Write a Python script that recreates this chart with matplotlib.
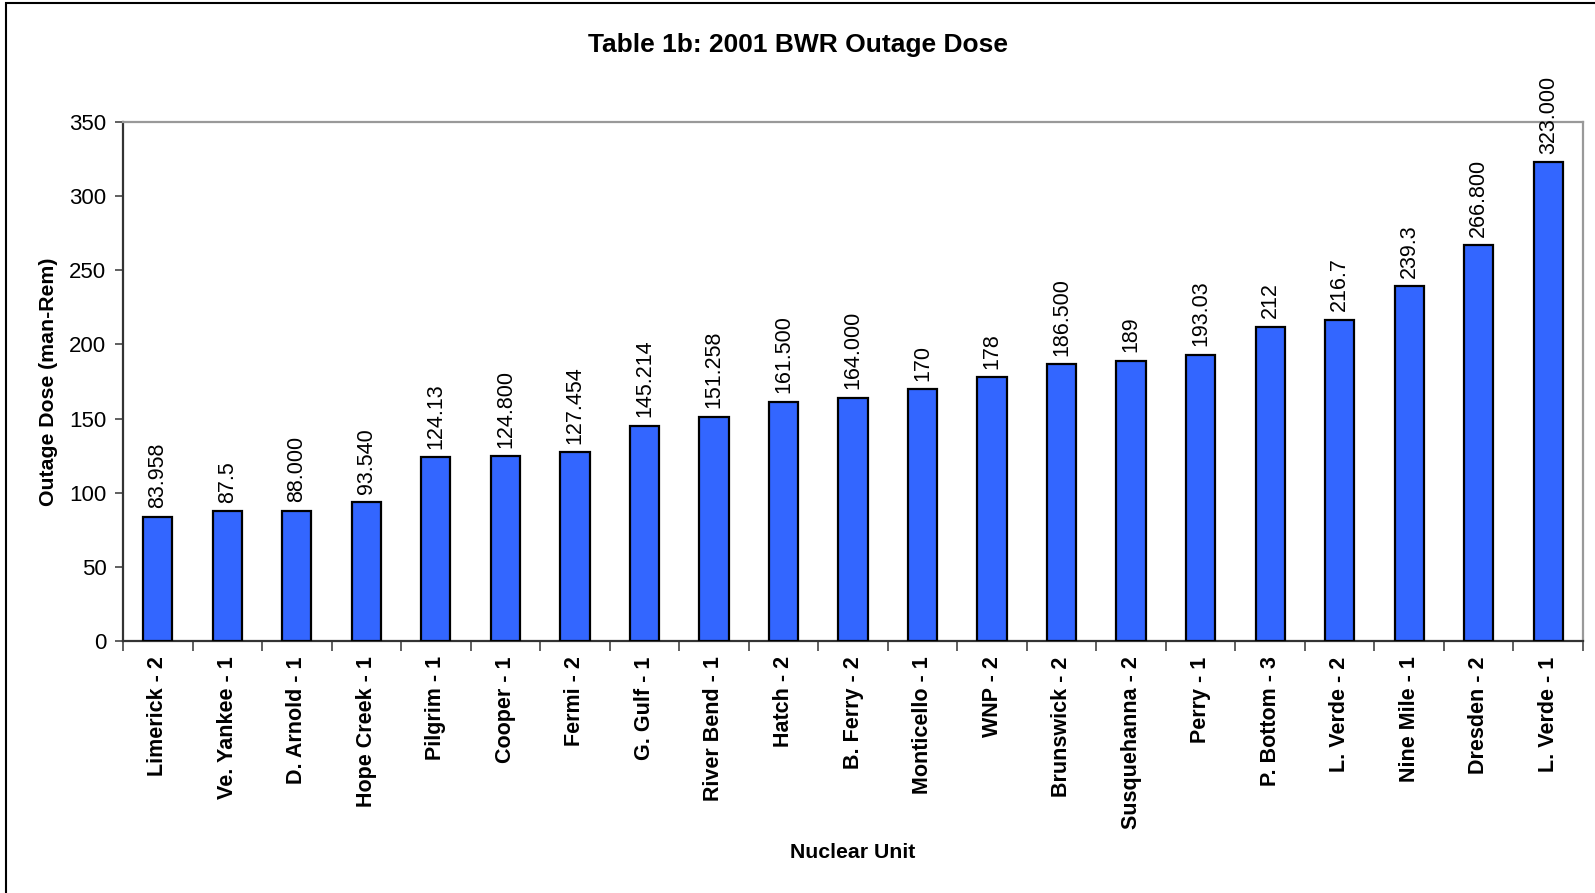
import matplotlib
matplotlib.use("Agg")
import matplotlib.pyplot as plt
from matplotlib.patches import Rectangle
import numpy as np

plt.rcParams['font.family'] = ['Liberation Sans', 'DejaVu Sans']

units = ["Limerick - 2", "Ve. Yankee - 1", "D. Arnold - 1", "Hope Creek - 1", "Pilgrim - 1",
         "Cooper - 1", "Fermi - 2", "G. Gulf - 1", "River Bend - 1", "Hatch - 2",
         "B. Ferry - 2", "Monticello - 1", "WNP - 2", "Brunswick - 2", "Susquehanna - 2",
         "Perry - 1", "P. Bottom - 3", "L. Verde - 2", "Nine Mile - 1", "Dresden - 2", "L. Verde - 1"]
doses = [83.958, 87.5, 88.000, 93.540, 124.13, 124.800, 127.454, 145.214, 151.258, 161.500,
         164.000, 170, 178, 186.500, 189, 193.03, 212, 216.7, 239.3, 266.800, 323.000]
dose_labels = ["83.958", "87.5", "88.000", "93.540", "124.13", "124.800", "127.454", "145.214",
               "151.258", "161.500", "164.000", "170", "178", "186.500", "189", "193.03", "212",
               "216.7", "239.3", "266.800", "323.000"]
yticks = [0, 50, 100, 150, 200, 250, 300, 350]

fig = plt.figure(figsize=(15.95, 8.93), dpi=100)
ax = fig.add_axes([123/1595, 1-641/893, (1583-123)/1595, (641-122)/893])

x = np.arange(len(units))
ax.bar(x, doses, width=0.42, color="#3366FF", edgecolor="black", linewidth=1.6, zorder=3)
for xi, v, lab in zip(x, doses, dose_labels):
    ax.annotate(lab, (xi, v), xytext=(0, 6), textcoords="offset points",
                rotation=90, ha="center", va="bottom", fontsize=15.5, clip_on=False)

ax.set_xlim(-0.5, len(units) - 0.5)
ax.set_ylim(0, 350)
ax.set_yticks(yticks)
ax.set_yticklabels([str(t) for t in yticks], fontsize=16)
ax.set_xticks(x)
ax.set_xticklabels(units, rotation=90, fontsize=15.5, fontweight="bold")
ax.tick_params(axis="x", length=0, pad=11)
ax.set_xticks(np.arange(len(units) + 1) - 0.5, minor=True)
ax.tick_params(axis="x", which="minor", length=7, width=1.2, color="#444444")
ax.tick_params(axis="y", length=6, width=1.2, color="#444444", pad=6)

for s in ["left", "bottom"]:
    ax.spines[s].set_color("#333333")
    ax.spines[s].set_linewidth(1.6)
for s in ["top", "right"]:
    ax.spines[s].set_color("#999999")
    ax.spines[s].set_linewidth(1.6)

ax.set_ylabel("Outage Dose (man-Rem)", fontsize=15.3, fontweight="bold", labelpad=8)
ax.set_xlabel("Nuclear Unit", fontsize=15.3, fontweight="bold", labelpad=10)
fig.text(0.5, 1 - 45/893, "Table 1b: 2001 BWR Outage Dose", ha="center", va="center",
         fontsize=19, fontweight="bold")

fig.patches.append(Rectangle((6/1595, -0.1), 1.2, 1.1 - 3/893, transform=fig.transFigure,
                             fill=False, edgecolor="black", linewidth=1.5))

fig.savefig("out.png", dpi=100)
